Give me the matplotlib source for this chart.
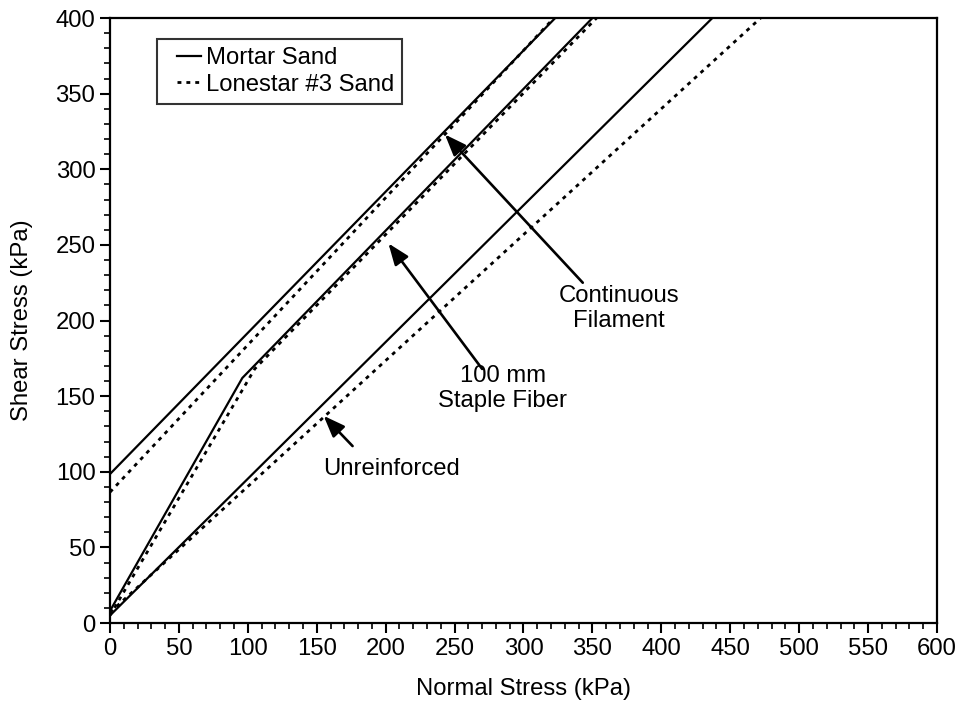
import matplotlib
matplotlib.use("Agg")
import matplotlib.pyplot as plt
from matplotlib.ticker import MultipleLocator
from matplotlib.legend_handler import HandlerLine2D

plt.rcParams['font.family'] = ['Liberation Sans', 'DejaVu Sans']

# Continuous filament
cont_x_mortar = [0, 323]
cont_y_mortar = [98.5, 400]
cont_x_lone = [0, 322]
cont_y_lone = [86.5, 400]

# 100 mm staple fiber (bilinear)
stap_x_mortar = [0, 96, 350]
stap_y_mortar = [8, 162, 400]
stap_x_lone = [0, 105, 353]
stap_y_lone = [5, 168, 400]

# Unreinforced
unr_x_mortar = [0, 437]
unr_y_mortar = [5, 400]
unr_x_lone = [0, 472]
unr_y_lone = [7, 400]

FS = 17.2
dots = (0, (1.4, 1.8))

fig = plt.figure(figsize=(9.58, 7.02), dpi=100)
ax = fig.add_axes([0.1148, 0.1125, 0.8633, 0.8618])

ax.plot(cont_x_mortar, cont_y_mortar, color='black', lw=1.6, label='Mortar Sand')
ax.plot(cont_x_lone, cont_y_lone, color='black', lw=2.0, ls=dots, label='Lonestar #3 Sand')
ax.plot(stap_x_mortar, stap_y_mortar, color='black', lw=1.6)
ax.plot(stap_x_lone, stap_y_lone, color='black', lw=2.0, ls=dots)
ax.plot(unr_x_mortar, unr_y_mortar, color='black', lw=1.6)
ax.plot(unr_x_lone, unr_y_lone, color='black', lw=2.0, ls=dots)

arrow = dict(arrowstyle='-|>,head_length=1.3,head_width=0.5', color='black', lw=1.9,
             shrinkA=0, shrinkB=0)
ax.annotate('', xy=(243, 323), xytext=(343, 225), arrowprops=arrow)
ax.text(369, 208, 'Continuous\nFilament', ha='center', va='center', fontsize=FS,
        linespacing=1.2)
ax.annotate('', xy=(202, 251), xytext=(270, 168), arrowprops=arrow)
ax.text(285, 155, '100 mm\nStaple Fiber', ha='center', va='center', fontsize=FS,
        linespacing=1.2)
ax.annotate('', xy=(155, 137), xytext=(176, 117), arrowprops=arrow)
ax.text(204, 102, 'Unreinforced', ha='center', va='center', fontsize=FS)

ax.set_xlim(0, 600)
ax.set_ylim(0, 400)
ax.xaxis.set_major_locator(MultipleLocator(50))
ax.xaxis.set_minor_locator(MultipleLocator(10))
ax.yaxis.set_major_locator(MultipleLocator(50))
ax.yaxis.set_minor_locator(MultipleLocator(10))
ax.tick_params(which='major', length=7, width=1.5, labelsize=FS, color='black', direction='out')
ax.tick_params(which='minor', length=4, width=1.2, direction='out')
for s in ax.spines.values():
    s.set_linewidth(1.6)

ax.set_xlabel('Normal Stress (kPa)', fontsize=FS, labelpad=13)
ax.set_ylabel('Shear Stress (kPa)', fontsize=FS, labelpad=16)

leg = ax.legend(loc='upper left', bbox_to_anchor=(0.0565, 0.966), borderaxespad=0,
                fontsize=FS, frameon=True, fancybox=False, edgecolor='black',
                handlelength=1.5, handletextpad=0.2, labelspacing=0.2,
                borderpad=0.35, handler_map={plt.Line2D: HandlerLine2D(xpad=0.5)})
leg.get_frame().set_linewidth(1.5)

fig.savefig('out.png', dpi=100)
